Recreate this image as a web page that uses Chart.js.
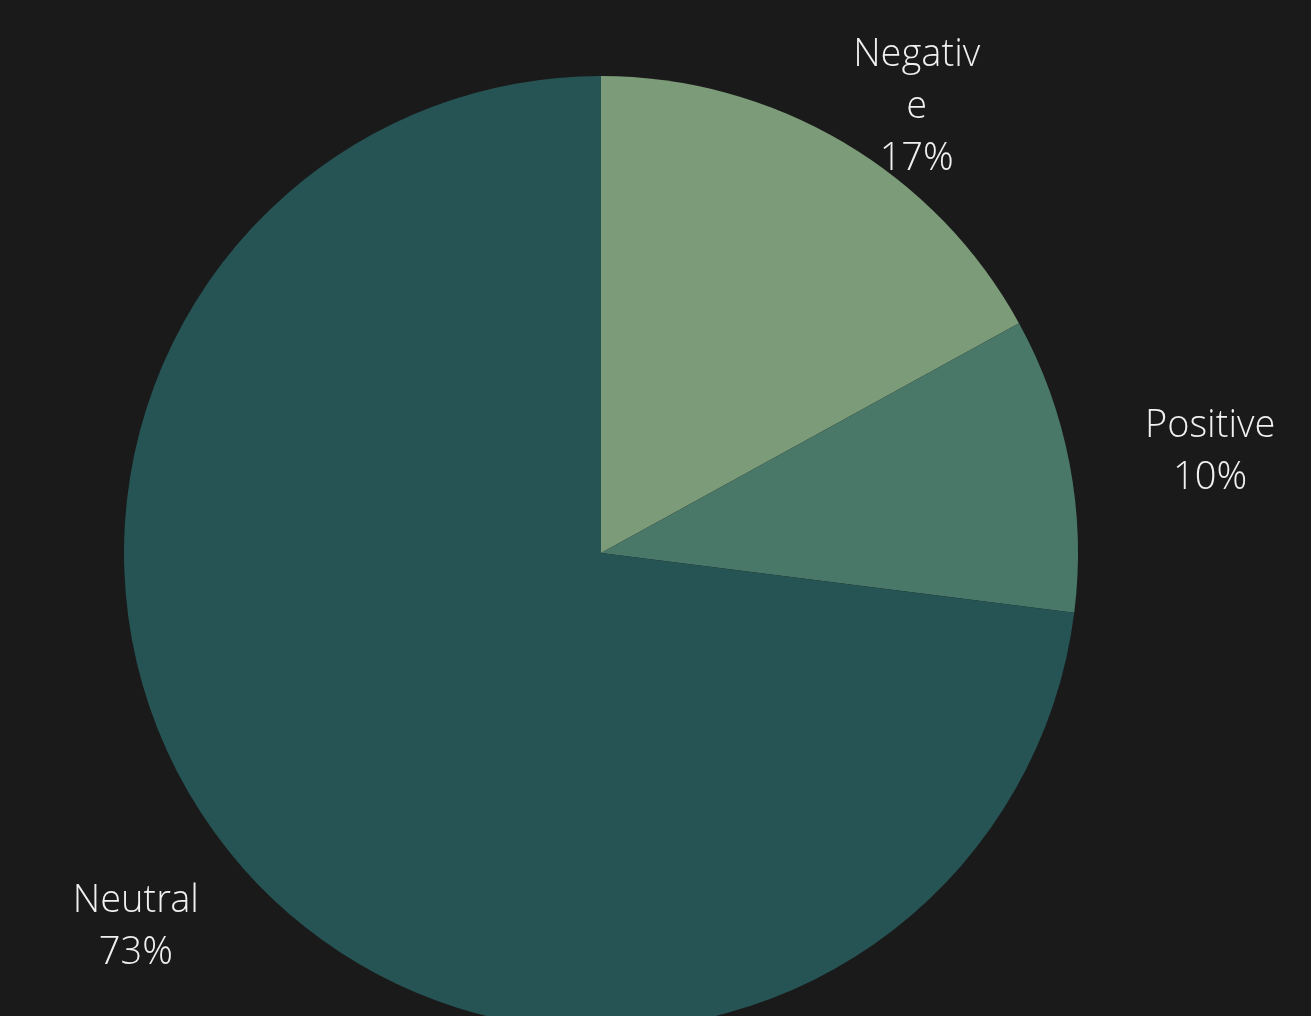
<!DOCTYPE html>
<html>
<head>
<meta charset="utf-8">
<script src="https://cdn.jsdelivr.net/npm/chart.js@4.4.1/dist/chart.umd.min.js"></script>
<style>
  html, body { margin: 0; padding: 0; background: #1a1a1a; overflow: hidden; }
  #wrap { width: 1311px; height: 1016px; }
</style>
</head>
<body>
<div id="wrap"><canvas id="sentiment"></canvas></div>
<script>
// sentiment split
var categories = ['Negative', 'Positive', 'Neutral'];
var shares = [17, 10, 73];
var sliceColors = ['#7c9b78', '#4a7868', '#265354'];

// labels go outside the pie, under it, wrapped to a fixed width
var outsideLabels = {
  id: 'outsideLabels',
  beforeDatasetsDraw(chart) {
    var ctx = chart.ctx;
    var meta = chart.getDatasetMeta(0);
    var total = shares.reduce((a, b) => a + b, 0);
    var lineH = 52, maxW = 134, marginTop = 30, marginBottom = 36;
    ctx.save();
    ctx.font = '300 38px "Open Sans Light", "Open Sans"';
    ctx.fillStyle = '#f0f0f0';
    ctx.textAlign = 'center';
    ctx.textBaseline = 'middle';
    meta.data.forEach(function (arc, i) {
      var p = arc.getProps(['x', 'y', 'startAngle', 'endAngle', 'outerRadius'], true);
      var mid = (p.startAngle + p.endAngle) / 2;
      var r = p.outerRadius * 1.3;
      var cx = p.x + Math.cos(mid) * r;
      var cy = p.y + Math.sin(mid) * r + 16;

      // break the name by characters when it is too wide
      var lines = [], cur = '';
      for (var ch of categories[i]) {
        if (cur && ctx.measureText(cur + ch).width > maxW) { lines.push(cur); cur = ch; }
        else cur += ch;
      }
      lines.push(cur);
      lines.push(Math.round(shares[i] / total * 100) + '%');

      var h = lines.length * lineH;
      var top = cy - h / 2;
      if (top < marginTop) top = marginTop;
      if (top + h > chart.height - marginBottom) top = chart.height - marginBottom - h;
      lines.forEach(function (t, k) {
        ctx.fillText(t, cx, top + lineH * (k + 0.5));
      });
    });
    ctx.restore();
  }
};

new Chart(document.getElementById('sentiment'), {
  type: 'pie',
  data: {
    labels: categories,
    datasets: [{
      data: shares,
      backgroundColor: sliceColors,
      borderWidth: 0
    }]
  },
  options: {
    responsive: true,
    maintainAspectRatio: false,
    animation: false,
    radius: 477,
    layout: { padding: { left: 0, right: 109, top: 90, bottom: 0 } },
    plugins: {
      legend: { display: false },
      tooltip: { enabled: false }
    }
  },
  plugins: [outsideLabels]
});
</script>
</body>
</html>
